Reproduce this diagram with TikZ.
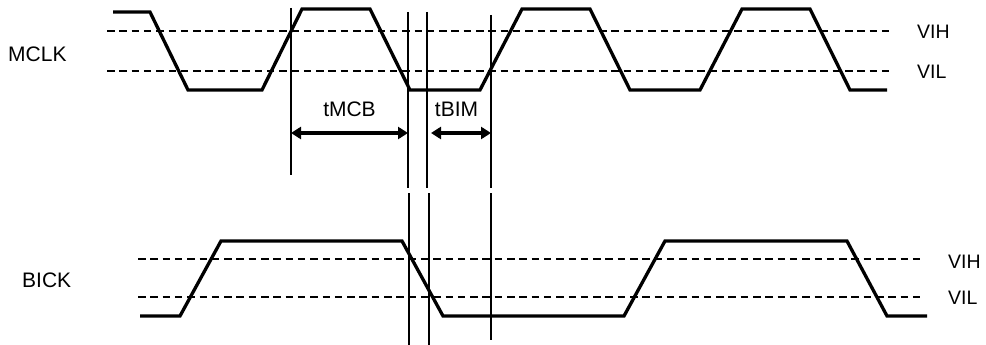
\documentclass[tikz,border=0pt]{standalone}
\usepackage{fontspec}
\setmainfont{Liberation Sans}
\usetikzlibrary{arrows.meta}
\begin{document}
\begin{tikzpicture}[x=1pt,y=-1pt,
  wave/.style={line width=3.3pt,line join=miter},
  thresh/.style={line width=2.2pt,dash pattern=on 7.5pt off 4.8pt},
  marker/.style={line width=1.2pt},
  dimarrow/.style={line width=3.2pt,{Triangle[length=10pt,width=12pt]}-{Triangle[length=10pt,width=12pt]}},
  siglabel/.style={inner sep=0pt,anchor=base west,font=\fontsize{21}{25}\selectfont},
  lvllabel/.style={inner sep=0pt,anchor=base west,font=\fontsize{19.5}{23}\selectfont},
  timelabel/.style={inner sep=0pt,anchor=base,font=\fontsize{21}{25}\selectfont}]
\useasboundingbox (0,0) rectangle (986,345);
% threshold lines
\coordinate (mhA) at (107,31);  \coordinate (mhB) at (892,31);
\coordinate (mlA) at (107,71);  \coordinate (mlB) at (892,71);
\coordinate (bhA) at (138,259); \coordinate (bhB) at (923,259);
\coordinate (blA) at (138,297); \coordinate (blB) at (923,297);
\draw[thresh] (mhA) -- (mhB);
\draw[thresh] (mlA) -- (mlB);
\draw[thresh] (bhA) -- (bhB);
\draw[thresh] (blA) -- (blB);
% MCLK waveform
\draw[wave] (113,12) -- (150,12) -- (188,90) -- (262,90) -- (302,9) -- (370,9) -- (410,90) -- (480,90)
  -- (522,9) -- (590,9) -- (630,90) -- (700,90) -- (742,9) -- (810,9) -- (850,90) -- (887,90);
% BICK waveform
\draw[wave] (140,316) -- (180,316) -- (221,241) -- (402,241) -- (443,316) -- (624,316)
  -- (665,241) -- (847,241) -- (887,316) -- (927,316);
% vertical markers
\coordinate (v1t) at (291,8);   \coordinate (v1b) at (291,175);
\coordinate (v2t) at (408,12);  \coordinate (v2b) at (408,188);
\coordinate (v3t) at (427,12);  \coordinate (v3b) at (427,188);
\coordinate (v4t) at (491,15);  \coordinate (v4b) at (491,188);
\coordinate (w2t) at (409,193); \coordinate (w2b) at (409,345);
\coordinate (w3t) at (429,193); \coordinate (w3b) at (429,345);
\coordinate (w4t) at (491,193); \coordinate (w4b) at (491,340);
\foreach \a/\b in {v1t/v1b,v2t/v2b,v3t/v3b,v4t/v4b,w2t/w2b,w3t/w3b,w4t/w4b}
  \draw[marker] (\a) -- (\b);
% dimension arrows
\coordinate (aL) at (291,133); \coordinate (aR) at (408,133);
\coordinate (bL) at (431,133); \coordinate (bR) at (491,133);
\draw[dimarrow] (aL) -- (aR);
\draw[dimarrow] (bL) -- (bR);
% labels
\node[siglabel] (mclk) at (8,62) {MCLK};
\node[siglabel] (bick) at (22,287) {BICK};
\node[timelabel] (tmcb) at (349.5,116.5) {tMCB};
\node[timelabel] (tbim) at (456.5,116.5) {tBIM};
\node[lvllabel] (vih1) at (917,38.5) {VIH};
\node[lvllabel] (vil1) at (917,78.5) {VIL};
\node[lvllabel] (vih2) at (948,268.5) {VIH};
\node[lvllabel] (vil2) at (948,304.5) {VIL};
\end{tikzpicture}
\end{document}
